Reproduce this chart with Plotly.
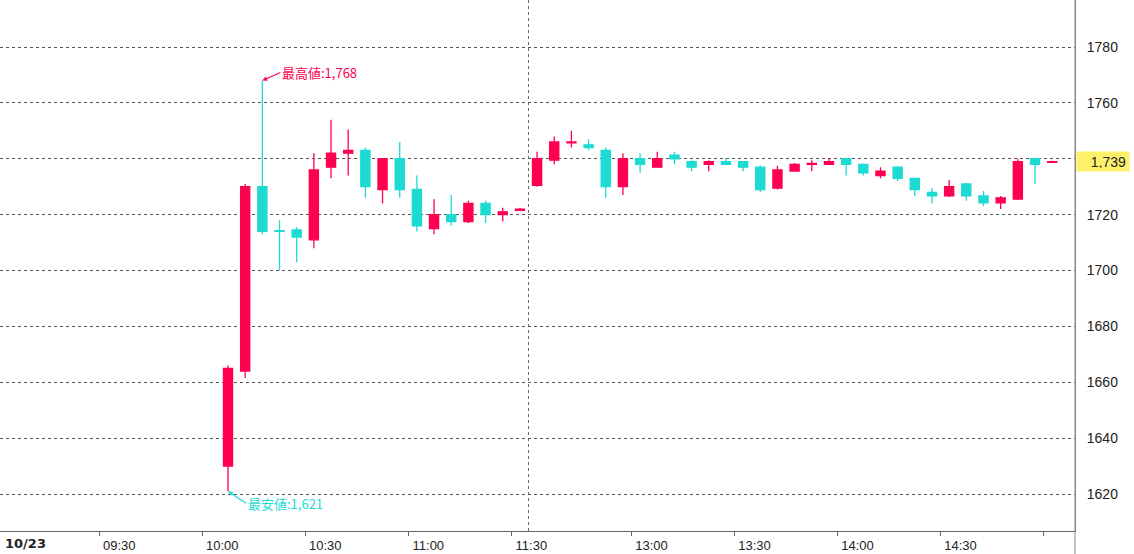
import plotly.graph_objects as go

# ---- data (5-minute candles, 10/23) ----
date_label = "10/23"
times = ["10:05","10:10","10:15","10:20","10:25","10:30","10:35","10:40","10:45","10:50",
         "10:55","11:00","11:05","11:10","11:15","11:20","11:25","11:30",
         "12:30","12:35","12:40","12:45","12:50","12:55","13:00","13:05","13:10","13:15",
         "13:20","13:25","13:30","13:35","13:40","13:45","13:50","13:55","14:00","14:05",
         "14:10","14:15","14:20","14:25","14:30","14:35","14:40","14:45","14:50","14:55","15:00"]
open_ = [1630, 1664, 1730, 1714.3, 1714.5, 1711, 1737, 1742, 1743, 1729,
         1740, 1729, 1715, 1720, 1717.5, 1724, 1720, 1721.5,
         1730.5, 1739.5, 1745.7, 1745, 1743, 1730, 1740, 1737, 1741.3, 1739,
         1738, 1739, 1739, 1737, 1729.5, 1735.6, 1738, 1738, 1740, 1738,
         1734, 1737, 1733, 1728, 1726.7, 1731, 1726.7, 1724.2, 1725.6, 1740, 1738.7]
high = [1666, 1731, 1768, 1718, 1715.5, 1742, 1754, 1750.5, 1744, 1740,
        1746, 1734, 1725.5, 1727, 1725, 1725, 1722.5, 1722.5,
        1742.5, 1748, 1750, 1747, 1744, 1742, 1742, 1742.5, 1742.5, 1739.5,
        1739.5, 1740.3, 1739, 1737.5, 1737.5, 1738.5, 1739.5, 1740, 1740, 1738.3,
        1737, 1737.3, 1733.3, 1729.5, 1732.4, 1731.3, 1728.5, 1726.7, 1740, 1740.3, 1739.3]
low = [1621, 1661.5, 1713, 1700, 1703, 1708, 1733, 1734, 1726, 1724,
       1726, 1714, 1713, 1716, 1717, 1717, 1717.5, 1721.5,
       1730, 1738, 1744, 1743, 1726, 1727, 1735, 1737, 1738, 1735.5,
       1735.5, 1738, 1735.5, 1728, 1729, 1735.5, 1735.5, 1737.8, 1734, 1734,
       1733, 1732, 1726.7, 1724, 1726.3, 1725, 1723, 1722, 1725.2, 1731, 1738.7]
close = [1665, 1730, 1714, 1714, 1712, 1736, 1742, 1743, 1730, 1740,
         1729, 1716, 1720, 1717.5, 1724, 1720, 1721, 1722,
         1740, 1746, 1746, 1744, 1730, 1740, 1738, 1740, 1740, 1737,
         1739, 1738, 1737, 1729, 1736, 1738, 1738.3, 1739, 1738, 1735,
         1735.6, 1733, 1729, 1726.7, 1730, 1726.7, 1724.2, 1726, 1739, 1738, 1739]
tick_times = ["09:30","10:00","10:30","11:00","11:30","13:00","13:30","14:00","14:30","15:00"]
tick_labels = ["09:30","10:00","10:30","11:00","11:30","13:00","13:30","14:00","14:30",""]
y_ticks = [1620, 1640, 1660, 1680, 1700, 1720, 1740, 1760, 1780]

UP = "#ff0050"
DOWN = "#1ddbd3"

x = list(range(len(times)))

def to_min(t):
    h, m = t.split(":")
    return int(h) * 60 + int(m)

def time_index(t):
    mn = to_min(t)
    if mn <= to_min("11:30"):
        return (mn - to_min("10:05")) / 5
    return 18 + (mn - to_min("12:30")) / 5

tick_pos = [time_index(t) - 0.5 for t in tick_times]
session_break = 17.5
last = close[-1]
# the price tag covers the axis label nearest to the last price
y_text = ["" if abs(v - last) < 5 else str(v) for v in y_ticks]

fig = go.Figure()
fig.add_trace(go.Candlestick(
    x=x, open=open_, high=high, low=low, close=close,
    increasing=dict(fillcolor=UP, line=dict(color=UP, width=1.3)),
    decreasing=dict(fillcolor=DOWN, line=dict(color=DOWN, width=1.3)),
    whiskerwidth=0, showlegend=False, hoverinfo="skip",
))

imax = high.index(max(high))
imin = low.index(min(low))
cjk = "Noto Sans CJK JP"
fig.add_annotation(x=imax, y=max(high), text=f"最高値:{int(max(high)):,}",
                   showarrow=True, arrowhead=2, arrowsize=0.8, arrowwidth=1.2,
                   arrowcolor=UP, ax=18, ay=-8, xanchor="left",
                   font=dict(family=cjk, size=13, color=UP))
fig.add_annotation(x=imin, y=min(low), text=f"最安値:{int(min(low)):,}",
                   showarrow=True, arrowhead=2, arrowsize=0.8, arrowwidth=1.2,
                   arrowcolor=DOWN, ax=18, ay=12, xanchor="left",
                   font=dict(family=cjk, size=13, color=DOWN))

# last price tag
fig.add_annotation(xref="paper", x=1, y=last, xanchor="left", yanchor="middle",
                   text=f"{int(last):,}", showarrow=False, xshift=1,
                   bgcolor="#fdf06b", width=46, height=13, borderpad=3, align="right",
                   font=dict(family="Liberation Sans", size=14, color="#222"))

# date label
fig.add_annotation(xref="paper", yref="paper", x=0, y=0, xanchor="left", yanchor="top",
                   xshift=3, yshift=-3, text=f"<b>{date_label}</b>", showarrow=False,
                   font=dict(family="DejaVu Sans", size=13, color="#222"))

# session break line
fig.add_shape(type="line", x0=session_break, x1=session_break, yref="paper", y0=0, y1=1,
              line=dict(color="#666", width=1, dash="dot"))
# right border line extending to bottom
fig.add_shape(type="line", xref="paper", x0=1, x1=1, yref="paper", y0=-0.06, y1=1,
              line=dict(color="#888", width=1))

fig.update_layout(
    width=1134, height=554,
    margin=dict(l=0, r=59, t=0, b=23),
    paper_bgcolor="white", plot_bgcolor="white",
    boxgap=0.24,
    xaxis=dict(range=[-13.28, 49.33], tickvals=tick_pos, ticktext=tick_labels,
               ticks="outside", ticklen=4, tickcolor="#666", ticklabelshift=20,
               ticklabelstandoff=-2,
               showgrid=False, zeroline=False, showline=True, linecolor="#666",
               rangeslider=dict(visible=False), fixedrange=True,
               tickfont=dict(family="Liberation Sans", size=13, color="#222")),
    yaxis=dict(side="right", range=[1606.77, 1796.82], tickvals=y_ticks, ticktext=y_text,
               showgrid=True, gridcolor="#555", griddash="dot", gridwidth=1,
               showline=True, linecolor="#888", zeroline=False, ticks="",
               ticklabelstandoff=8,
               tickfont=dict(family="Liberation Sans", size=14, color="#222")),
)

fig.write_html("out.html")
